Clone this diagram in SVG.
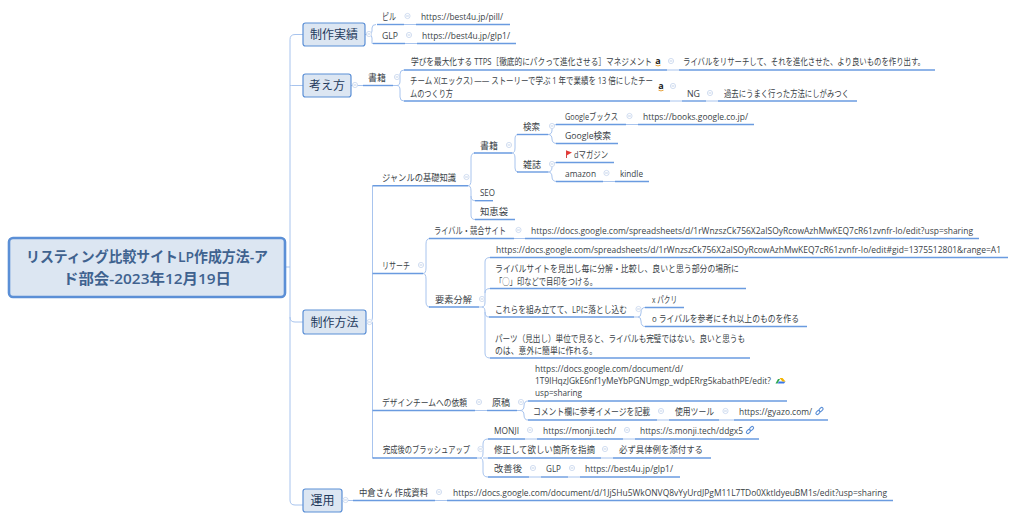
<svg xmlns="http://www.w3.org/2000/svg" width="1017" height="521" viewBox="0 0 1017 521">
<style>
text{font-family:"Open Sans","Noto Sans CJK JP",sans-serif;font-size:9.5px;fill:#3a3f47}
text.l{font-size:8.500px}
.topic text{font-size:12px;fill:#1f3a5c;text-anchor:middle}
.topic rect{fill:#dce6f2;stroke:#5b8fd6;stroke-width:1.2}
#root rect{fill:#dce6f2;stroke:#5b8fd6;stroke-width:2.6}
#root text{font-size:14.5px;font-weight:600;fill:#3f628f}
.u{stroke:#6a9be0;stroke-width:1.4;fill:none}
.c{stroke:#a8c4ee;stroke-width:1;fill:none}
.k{fill:#fff;stroke:#c5d4ec;stroke-width:.8}
.km{stroke:#a9bfe0;stroke-width:.7}
</style>
<defs>
<g id="col"><circle class="k" r="2.600"/><path class="km" d="M-1.400 0H1.400"/></g>
<g id="link"><g transform="rotate(-45)" fill="none" stroke="#5b8fd6" stroke-width="1.100"><rect x="-4.500" y="-1.400" width="4.600" height="2.800" rx="1.400"/><rect x="-.1" y="-1.400" width="4.600" height="2.800" rx="1.400"/></g></g>
<g id="amz"><text x="0" y="3" text-anchor="middle" style="font-size:9px;font-weight:700;fill:#222">a</text><path d="M-2.500 4.200Q0 5.600 2.500 4.200" stroke="#e8a33d" stroke-width="1" fill="none"/></g>
</defs>
<g id="connectors">
<path class="c" d="M303 34.500H295Q290 34.500 290 39.500V500Q290 505 295 505H303M290 85.500Q290 85.500 295 85.500H303M290 317Q290 322 295 322H303M285 267H290"/>
<path class="c" d="M365 34.500H369Q372 34.500 372 31V28Q372 24.500 376 24.500M369 34.500Q372 34.500 372 38V43.500H374M404 24.500H416M405 43.500H417"/>
<path class="c" d="M351 85.500H363M393 85.500H397Q400 85.500 400 81V74Q400 70 404 70M397 85.500Q400 85.500 400 90V97Q400 101 404 101M667 70H679M670 101H682M706 101H718"/>
<path class="c" d="M366 322H369Q372.500 322 372.500 317V185.700M372.500 322V458H374"/>
<path class="u" d="M372.500 185.700H377M372.500 273.500H377M372.500 410.500H377M372.500 458H377"/>
<path class="c" d="M468 185.700Q471 185.700 471 180V158Q471 153 475 153M468 185.700Q471 185.700 471 191V215Q471 219.500 475 219.500M471 196Q471 200.700 475 200.700"/>
<path class="c" d="M512 153Q515 153 515 148V139Q515 134.500 518 134.500M512 153Q515 153 515 158V168Q515 172 518 172M548 134.500Q552 134.500 552 130V129Q552 124.500 557 124.500M548 134.500Q552 134.500 552 139Q552 143.500 557 143.500M548 172Q552 172 552 167Q552 162.500 557 162.500M548 172Q552 172 552 177Q552 181.500 557 181.500M626 124.500H638M603 181.500H615"/>
<path class="c" d="M423 273.500Q426 273.500 426 268V244Q426 238.500 430 238.500M423 273.500Q426 273.500 426 279V302Q426 307 430 307M514 238.500H525"/>
<path class="c" d="M479 307H482Q485 307 485 302V262Q485 257.500 490 257.500M482 307Q485 307 485 312V353Q485 358 490 358M485 293Q485 288.500 490 288.500M485 312Q485 317 489 317"/>
<path class="c" d="M634 317H638Q641 317 641 313Q641 307.500 645 307.500M638 317Q641 317 641 321Q641 326.500 645 326.500"/>
<path class="c" d="M475 410.500H487M517 410.500H520Q524 410.500 524 406Q524 401 528 401M520 410.500Q524 410.500 524 415Q524 420 528 420M657 420H669M719 420H734"/>
<path class="c" d="M477 458H480Q483 458 483 453V444Q483 439 488 439M480 458Q483 458 483 463V472Q483 477 488 477M483 458H488M525 439H537M623 439H635M601 458H613M529 477H541M568 477H580"/>
<path class="c" d="M342 500.500H353M435 500.500H447"/>
</g>
<g id="root"><rect x="9" y="238" width="276" height="59" rx="4"/><text x="26" y="262" textLength="242" lengthAdjust="spacingAndGlyphs">リスティング比較サイトLP作成方法-ア</text><text x="63" y="284" textLength="168" lengthAdjust="spacingAndGlyphs">ド部会-2023年12月19日</text></g>
<g id="t1" class="topic"><rect x="303" y="23" width="62" height="23" rx="2.500"/><text x="334" y="39">制作実績</text></g>
<g id="t2" class="topic"><rect x="303" y="74" width="48" height="23" rx="2.500"/><text x="327" y="90">考え方</text></g>
<g id="t3" class="topic"><rect x="303" y="310" width="63" height="24" rx="2.500"/><text x="334.500" y="327">制作方法</text></g>
<g id="t4" class="topic"><rect x="303" y="489" width="39" height="23" rx="2.500"/><text x="322.500" y="505">運用</text></g>
<g id="collapse"><use href="#col" x="369" y="34"/><use href="#col" x="355" y="85"/><use href="#col" x="369.500" y="322"/><use href="#col" x="345.500" y="500"/><use href="#col" x="407.500" y="16"/><use href="#col" x="409" y="35"/><use href="#col" x="397" y="77"/><use href="#col" x="671" y="61"/><use href="#col" x="673" y="86"/><use href="#col" x="710" y="93"/><use href="#col" x="466.500" y="177"/><use href="#col" x="509" y="145"/><use href="#col" x="552" y="126"/><use href="#col" x="552" y="164"/><use href="#col" x="629.500" y="116"/><use href="#col" x="606.500" y="173"/><use href="#col" x="421" y="265"/><use href="#col" x="518.500" y="230"/><use href="#col" x="482" y="299"/><use href="#col" x="638.500" y="309"/><use href="#col" x="479" y="402"/><use href="#col" x="521" y="402"/><use href="#col" x="661" y="411"/><use href="#col" x="725.500" y="411"/><use href="#col" x="480.500" y="449"/><use href="#col" x="530" y="430"/><use href="#col" x="627" y="430"/><use href="#col" x="605" y="449"/><use href="#col" x="533" y="468"/><use href="#col" x="572" y="468"/><use href="#col" x="439" y="492"/></g>
<g id="n1"><path class="u" d="M377 24.500H404"/><text x="382" y="19.500" textLength="14" lengthAdjust="spacingAndGlyphs">ピル</text></g>
<g id="n2"><path class="u" d="M416 24.500H510"/><text class="l" x="421" y="19.500" textLength="82" lengthAdjust="spacingAndGlyphs">https://best4u.jp/pill/</text></g>
<g id="n3"><path class="u" d="M373 43.500H405"/><text x="382" y="38.500" textLength="16" lengthAdjust="spacingAndGlyphs">GLP</text></g>
<g id="n4"><path class="u" d="M417 43.500H516"/><text class="l" x="422" y="38.500" textLength="88" lengthAdjust="spacingAndGlyphs">https://best4u.jp/glp1/</text></g>
<g id="n5"><path class="u" d="M363 85.500H393"/><text x="368" y="80.500" textLength="18" lengthAdjust="spacingAndGlyphs">書籍</text></g>
<g id="n6"><path class="u" d="M404 70H667"/><text x="411" y="64.500" textLength="241" lengthAdjust="spacingAndGlyphs">学びを最大化する TTPS［徹底的にパクって進化させる］マネジメント</text><use href="#amz" x="658" y="61"/></g>
<g id="n7"><path class="u" d="M679 70H935"/><text x="683" y="64.500" textLength="242" lengthAdjust="spacingAndGlyphs">ライバルをリサーチして、それを進化させた、より良いものを作り出す。</text></g>
<g id="n8"><path class="u" d="M404 101H670"/><text x="410" y="83.500" textLength="243" lengthAdjust="spacingAndGlyphs">チーム X(エックス) ―― ストーリーで学ぶ 1 年で業績を 13 倍にしたチー</text><text x="410" y="96.500" textLength="43" lengthAdjust="spacingAndGlyphs">ムのつくり方</text><use href="#amz" x="661" y="86"/></g>
<g id="n9"><path class="u" d="M682 101H706"/><text x="687" y="96.500" textLength="13" lengthAdjust="spacingAndGlyphs">NG</text></g>
<g id="n10"><path class="u" d="M718 101H857"/><text x="724" y="96.500" textLength="125" lengthAdjust="spacingAndGlyphs">過去にうまく行った方法にしがみつく</text></g>
<g id="n11"><path class="u" d="M377 185.700H468"/><text x="382" y="180.500" textLength="74" lengthAdjust="spacingAndGlyphs">ジャンルの基礎知識</text></g>
<g id="n12"><path class="u" d="M474 153H512"/><text x="480" y="148.500" textLength="18" lengthAdjust="spacingAndGlyphs">書籍</text></g>
<g id="n13"><path class="u" d="M517 134.500H548"/><text x="523" y="129.500" textLength="17" lengthAdjust="spacingAndGlyphs">検索</text></g>
<g id="n14"><path class="u" d="M517 172H548"/><text x="523" y="167.500" textLength="18" lengthAdjust="spacingAndGlyphs">雑誌</text></g>
<g id="n15"><path class="u" d="M556 124.500H626"/><text x="565" y="119.500" textLength="53" lengthAdjust="spacingAndGlyphs">Googleブックス</text></g>
<g id="n16"><path class="u" d="M638 124.500H754"/><text class="l" x="643" y="119.500" textLength="105" lengthAdjust="spacingAndGlyphs">https://books.google.co.jp/</text></g>
<g id="n17"><path class="u" d="M556 143.500H618"/><text x="565" y="138.500" textLength="46" lengthAdjust="spacingAndGlyphs">Google検索</text></g>
<g id="n18"><path class="u" d="M556 162.500H614"/><path d="M566.500 150.500V158" stroke="#c33" stroke-width=".9"/><path d="M566.500 150.500L572 152.500L566.500 155.500Z" fill="#e53935"/><text x="574" y="157.500" textLength="34" lengthAdjust="spacingAndGlyphs">dマガジン</text></g>
<g id="n19"><path class="u" d="M556 181.500H603"/><text x="565" y="176.500" textLength="31" lengthAdjust="spacingAndGlyphs">amazon</text></g>
<g id="n20"><path class="u" d="M615 181.500H649"/><text x="620" y="176.500" textLength="23" lengthAdjust="spacingAndGlyphs">kindle</text></g>
<g id="n21"><path class="u" d="M475 200.700H493"/><text x="480" y="195.500" textLength="15" lengthAdjust="spacingAndGlyphs">SEO</text></g>
<g id="n22"><path class="u" d="M475 219.500H515"/><text x="480" y="214.500" textLength="28" lengthAdjust="spacingAndGlyphs">知恵袋</text></g>
<g id="n23"><path class="u" d="M377 273.500H423"/><text x="382" y="268.500" textLength="28" lengthAdjust="spacingAndGlyphs">リサーチ</text></g>
<g id="n24"><path class="u" d="M429 238.500H514"/><text x="434" y="233.500" textLength="72" lengthAdjust="spacingAndGlyphs">ライバル・競合サイト</text></g>
<g id="n25"><path class="u" d="M525 238.500H979"/><text class="l" x="531" y="233.500" textLength="442" lengthAdjust="spacingAndGlyphs">https://docs.google.com/spreadsheets/d/1rWnzszCk756X2aISOyRcowAzhMwKEQ7cR61zvnfr-Io/edit?usp=sharing</text></g>
<g id="n26"><path class="u" d="M429 307H479"/><text x="435" y="302.500" textLength="37" lengthAdjust="spacingAndGlyphs">要素分解</text></g>
<g id="n27"><path class="u" d="M490 257.500H1008"/><text class="l" x="496" y="252.500" textLength="505" lengthAdjust="spacingAndGlyphs">https://docs.google.com/spreadsheets/d/1rWnzszCk756X2aISOyRcowAzhMwKEQ7cR61zvnfr-Io/edit#gid=1375512801&amp;range=A1</text></g>
<g id="n28"><path class="u" d="M490 288.500H746"/><text x="495" y="271.500" textLength="244" lengthAdjust="spacingAndGlyphs">ライバルサイトを見出し毎に分解・比較し、良いと思う部分の場所に</text><text x="495" y="284.500" textLength="102" lengthAdjust="spacingAndGlyphs">「◯」印などで目印をつける。</text></g>
<g id="n29"><path class="u" d="M489 317H634"/><text x="495" y="312.500" textLength="132" lengthAdjust="spacingAndGlyphs">これらを組み立てて、LPに落とし込む</text></g>
<g id="n30"><path class="u" d="M645 307.500H684"/><text x="652" y="302.500" textLength="25" lengthAdjust="spacingAndGlyphs">x パクリ</text></g>
<g id="n31"><path class="u" d="M645 326.500H807"/><text x="652" y="321.500" textLength="147" lengthAdjust="spacingAndGlyphs">o ライバルを参考にそれ以上のものを作る</text></g>
<g id="n32"><path class="u" d="M490 358H750"/><text x="495" y="341.500" textLength="250" lengthAdjust="spacingAndGlyphs">パーツ（見出し）単位で見ると、ライバルも完璧ではない。良いと思うも</text><text x="495" y="353.500" textLength="102" lengthAdjust="spacingAndGlyphs">のは、意外に簡単に作れる。</text></g>
<g id="n33"><path class="u" d="M377 410.500H475"/><text x="382" y="405.500" textLength="85" lengthAdjust="spacingAndGlyphs">デザインチームへの依頼</text></g>
<g id="n34"><path class="u" d="M487 410.500H517"/><text x="492" y="405.500" textLength="18" lengthAdjust="spacingAndGlyphs">原稿</text></g>
<g id="n35"><path class="u" d="M528 401H787"/><text class="l" x="535" y="371.500" textLength="148" lengthAdjust="spacingAndGlyphs">https://docs.google.com/document/d/</text><text class="l" x="535" y="384" textLength="236" lengthAdjust="spacingAndGlyphs">1T9lHqzJGkE6nf1yMeYbPGNUmgp_wdpERrg5kabathPE/edit?</text><text class="l" x="535" y="396" textLength="47" lengthAdjust="spacingAndGlyphs">usp=sharing</text><path d="M775.500 383.500L778 379H780L777.500 383.500Z" fill="#2fa84f"/><path d="M777.500 383.500H784L785.500 381.500H779Z" fill="#3b78e7"/><path d="M779.500 378H782.500L785.500 381.500H782.500Z" fill="#f4b400"/></g>
<g id="n36"><path class="u" d="M528 420H657"/><text x="533" y="414.500" textLength="117" lengthAdjust="spacingAndGlyphs">コメント欄に参考イメージを記載</text></g>
<g id="n37"><path class="u" d="M669 420H719"/><text x="675" y="414.500" textLength="39" lengthAdjust="spacingAndGlyphs">使用ツール</text></g>
<g id="n38"><path class="u" d="M734 420H828"/><text class="l" x="739" y="414.500" textLength="73" lengthAdjust="spacingAndGlyphs">https://gyazo.com/</text><use href="#link" x="819.500" y="411"/></g>
<g id="n39"><path class="u" d="M377 458H477"/><text x="383" y="452.500" textLength="87" lengthAdjust="spacingAndGlyphs">完成後のブラッシュアップ</text></g>
<g id="n40"><path class="u" d="M488 439H525"/><text x="494" y="433.500" textLength="25" lengthAdjust="spacingAndGlyphs">MONJI</text></g>
<g id="n41"><path class="u" d="M537 439H623"/><text class="l" x="543" y="433.500" textLength="73" lengthAdjust="spacingAndGlyphs">https://monji.tech/</text></g>
<g id="n42"><path class="u" d="M635 439H759"/><text class="l" x="640" y="433.500" textLength="103" lengthAdjust="spacingAndGlyphs">https://s.monji.tech/ddgx5</text><use href="#link" x="750" y="430"/></g>
<g id="n43"><path class="u" d="M488 458H601"/><text x="494" y="452.500" textLength="101" lengthAdjust="spacingAndGlyphs">修正して欲しい箇所を指摘</text></g>
<g id="n44"><path class="u" d="M613 458H711"/><text x="619" y="452.500" textLength="84" lengthAdjust="spacingAndGlyphs">必ず具体例を添付する</text></g>
<g id="n45"><path class="u" d="M488 477H529"/><text x="494" y="471.500" textLength="28" lengthAdjust="spacingAndGlyphs">改善後</text></g>
<g id="n46"><path class="u" d="M541 477H568"/><text x="546" y="471.500" textLength="15" lengthAdjust="spacingAndGlyphs">GLP</text></g>
<g id="n47"><path class="u" d="M580 477H680"/><text class="l" x="585" y="471.500" textLength="88" lengthAdjust="spacingAndGlyphs">https://best4u.jp/glp1/</text></g>
<g id="n48"><path class="u" d="M353 500.500H435"/><text x="359" y="495.500" textLength="69" lengthAdjust="spacingAndGlyphs">中倉さん 作成資料</text></g>
<g id="n49"><path class="u" d="M447 500.500H893"/><text class="l" x="453" y="495.500" textLength="434" lengthAdjust="spacingAndGlyphs">https://docs.google.com/document/d/1JjSHu5WkONVQ8vYyUrdJPgM11L7TDo0XktldyeuBM1s/edit?usp=sharing</text></g>
</svg>
